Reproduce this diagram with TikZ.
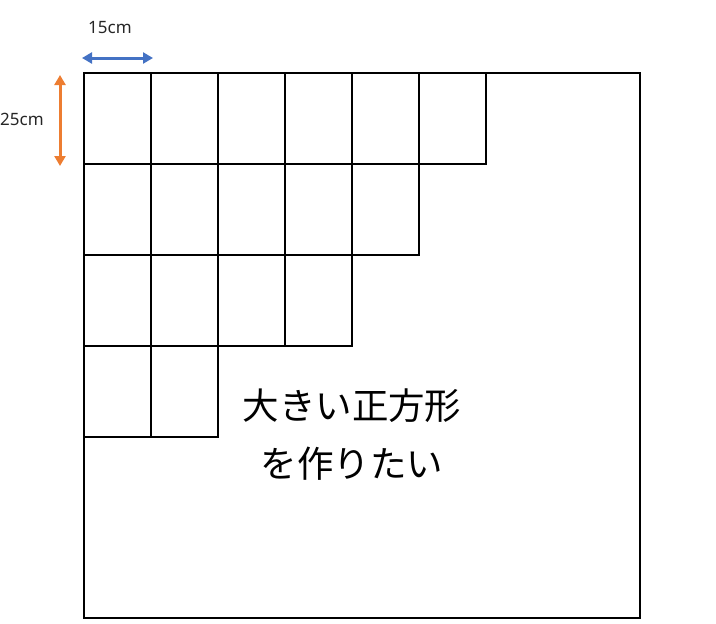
\documentclass[tikz,border=0pt]{standalone}
\usepackage{fontspec}
\setmainfont{Noto Sans}
\newfontfamily\jpfont{Noto Sans CJK JP}
\usetikzlibrary{arrows.meta}
\definecolor{arrblue}{HTML}{4472C4}
\definecolor{arrorange}{HTML}{ED7D31}
\tikzset{
  cell/.style={draw=black, line width=1.2pt},
  outer/.style={draw=black, line width=2.2pt},
  dimarrow/.style={line width=3pt, {Triangle[length=10pt,width=11pt]}-{Triangle[length=10pt,width=11pt]}},
  dimlabel/.style={font=\fontsize{17}{19}\selectfont, text=black!85, inner sep=0pt},
  bigtext/.style={font=\jpfont\fontsize{36.5}{40}\selectfont, inner sep=0pt, align=center}
}
\begin{document}
\begin{tikzpicture}[x=1pt,y=-1pt]
\useasboundingbox (0,0) rectangle (716,624);
% grid cells
\foreach \r/\n in {0/6,1/5,2/4,3/2}{
  \foreach \c in {1,...,\n}{
    \draw[cell] ({84+67*(\c-1)},{73+91*\r}) rectangle ({84+67*\c},{73+91*(\r+1)});
  }
}
% outer square
\draw[outer] (84,73) rectangle (640,618);
% dimension arrows
\coordinate (hA) at (82,58);
\coordinate (hB) at (153,58);
\coordinate (vA) at (60,75);
\coordinate (vB) at (60,166);
\draw[dimarrow, arrblue] (hA) -- (hB);
\draw[dimarrow, arrorange] (vA) -- (vB);
\node[dimlabel] (w) at (110,28) {15cm};
\node[dimlabel] (h) at (22,119) {25cm};
% text
\node[bigtext] (t1) at (352,406) {大きい正方形};
\node[bigtext] (t2) at (352,464) {を作りたい};
\end{tikzpicture}
\end{document}
